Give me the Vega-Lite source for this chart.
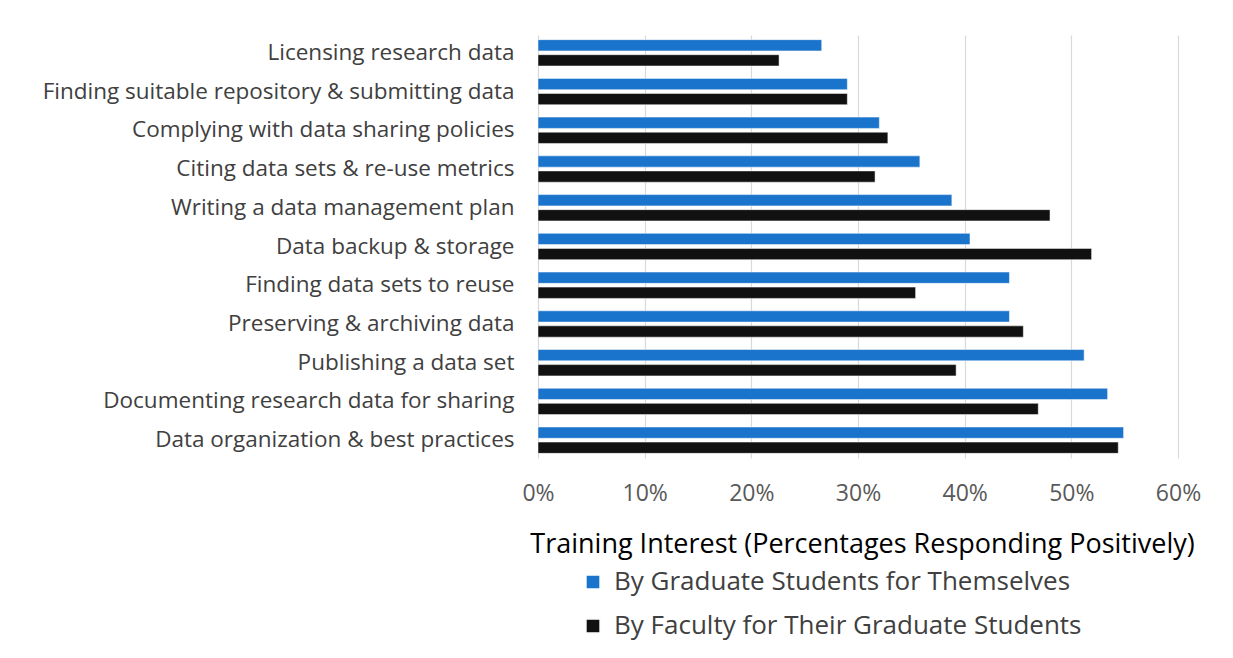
{
  "$schema": "https://vega.github.io/schema/vega-lite/v6.json",
  "width": 640,
  "height": 423,
  "autosize": {"type": "none"},
  "padding": {"left": 538, "top": 35, "right": 55, "bottom": 200},
  "background": "white",
  "config": {"view": {"stroke": null}, "font": "Open Sans"},
  "data": {
    "values": [
      {"task": "Licensing research data", "group": "By Graduate Students for Themselves", "value": 0.266},
      {"task": "Licensing research data", "group": "By Faculty for Their Graduate Students", "value": 0.226},
      {"task": "Finding suitable repository & submitting data", "group": "By Graduate Students for Themselves", "value": 0.290},
      {"task": "Finding suitable repository & submitting data", "group": "By Faculty for Their Graduate Students", "value": 0.290},
      {"task": "Complying with data sharing policies", "group": "By Graduate Students for Themselves", "value": 0.320},
      {"task": "Complying with data sharing policies", "group": "By Faculty for Their Graduate Students", "value": 0.328},
      {"task": "Citing data sets & re-use metrics", "group": "By Graduate Students for Themselves", "value": 0.358},
      {"task": "Citing data sets & re-use metrics", "group": "By Faculty for Their Graduate Students", "value": 0.316},
      {"task": "Writing a data management plan", "group": "By Graduate Students for Themselves", "value": 0.388},
      {"task": "Writing a data management plan", "group": "By Faculty for Their Graduate Students", "value": 0.480},
      {"task": "Data backup & storage", "group": "By Graduate Students for Themselves", "value": 0.405},
      {"task": "Data backup & storage", "group": "By Faculty for Their Graduate Students", "value": 0.519},
      {"task": "Finding data sets to reuse", "group": "By Graduate Students for Themselves", "value": 0.442},
      {"task": "Finding data sets to reuse", "group": "By Faculty for Their Graduate Students", "value": 0.354},
      {"task": "Preserving & archiving data", "group": "By Graduate Students for Themselves", "value": 0.442},
      {"task": "Preserving & archiving data", "group": "By Faculty for Their Graduate Students", "value": 0.455},
      {"task": "Publishing a data set", "group": "By Graduate Students for Themselves", "value": 0.512},
      {"task": "Publishing a data set", "group": "By Faculty for Their Graduate Students", "value": 0.392},
      {"task": "Documenting research data for sharing", "group": "By Graduate Students for Themselves", "value": 0.534},
      {"task": "Documenting research data for sharing", "group": "By Faculty for Their Graduate Students", "value": 0.469},
      {"task": "Data organization & best practices", "group": "By Graduate Students for Themselves", "value": 0.549},
      {"task": "Data organization & best practices", "group": "By Faculty for Their Graduate Students", "value": 0.544}
    ]
  },
  "mark": {"type": "bar", "stroke": "#ffffff", "strokeWidth": 0.5},
  "encoding": {
    "y": {
      "field": "task",
      "type": "nominal",
      "sort": null,
      "scale": {"paddingInner": 0.32, "paddingOuter": 0.12},
      "axis": {
        "title": null,
        "ticks": false,
        "domain": false,
        "labelPadding": 24,
        "labelFontSize": 22.5,
        "labelColor": "#404040",
        "labelLimit": 540
      }
    },
    "yOffset": {
      "field": "group",
      "type": "nominal",
      "sort": ["By Graduate Students for Themselves", "By Faculty for Their Graduate Students"],
      "scale": {"paddingInner": 0.25}
    },
    "x": {
      "field": "value",
      "type": "quantitative",
      "scale": {"domain": [0, 0.6], "nice": false},
      "axis": {
        "format": ".0%",
        "values": [0, 0.1, 0.2, 0.3, 0.4, 0.5, 0.6],
        "title": "Training Interest (Percentages Responding Positively)",
        "titleFontSize": 27,
        "titleFontWeight": "normal",
        "titleColor": "#000000",
        "titlePadding": 26,
        "titleX": 324,
        "labelFontSize": 23,
        "labelColor": "#595959",
        "labelPadding": 24,
        "labelFlush": false,
        "labelOverlap": false,
        "ticks": false,
        "domain": false,
        "grid": true,
        "gridColor": "#d9d9d9",
        "gridWidth": 1.2
      }
    },
    "color": {
      "field": "group",
      "type": "nominal",
      "sort": ["By Graduate Students for Themselves", "By Faculty for Their Graduate Students"],
      "scale": {"range": ["#1a74cc", "#111111"]},
      "legend": {
        "orient": "none",
        "legendX": 42,
        "legendY": 534,
        "title": null,
        "symbolType": "square",
        "symbolSize": 200,
        "labelFontSize": 26,
        "labelColor": "#404040",
        "labelLimit": 600,
        "rowPadding": 18,
        "labelOffset": 8
      }
    }
  }
}
